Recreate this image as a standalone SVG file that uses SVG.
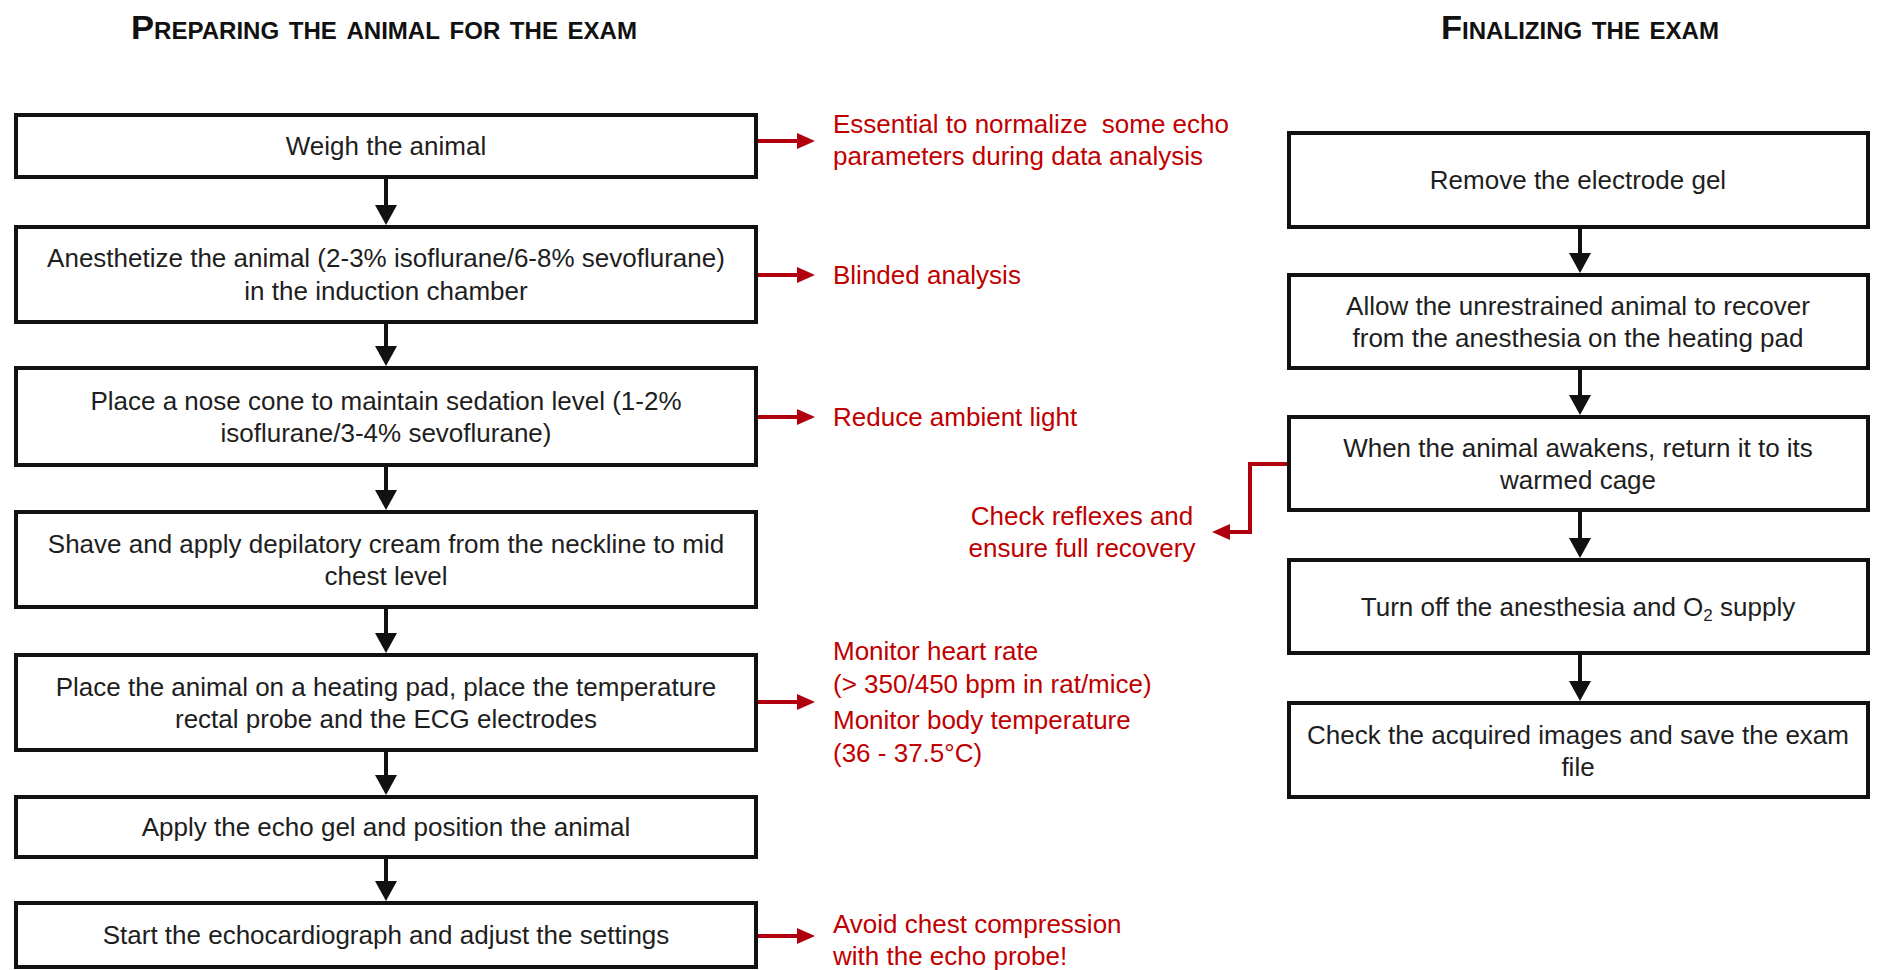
<svg xmlns="http://www.w3.org/2000/svg" width="1877" height="970" viewBox="0 0 1877 970">
<defs>
<style>
.box{fill:#ffffff;stroke:#111111;stroke-width:4}
.t{font-family:"Liberation Sans",Arial,sans-serif;font-size:26px;fill:#1e1e1e;text-anchor:middle}
.r{font-family:"Liberation Sans",Arial,sans-serif;font-size:26px;fill:#c00000}
.title{font-family:"Liberation Sans",Arial,sans-serif;font-size:33px;font-weight:bold;font-variant:small-caps;fill:#111111;text-anchor:middle}
.blk{fill:none;stroke:#111111;stroke-width:4}
.red{fill:none;stroke:#b00010;stroke-width:4}
</style>
<marker id="ab" markerUnits="userSpaceOnUse" viewBox="0 0 20 22" markerWidth="20" markerHeight="22" refX="0" refY="11" orient="auto">
<path d="M0,0 L20,11 L0,22 Z" fill="#111111"/>
</marker>
<marker id="ar" markerUnits="userSpaceOnUse" viewBox="0 0 18 16" markerWidth="18" markerHeight="16" refX="0" refY="8" orient="auto">
<path d="M0,0 L18,8 L0,16 Z" fill="#b00010"/>
</marker>
</defs>
<rect width="1877" height="970" fill="#ffffff"/>

<g id="titles">
<text class="title" x="384" y="39" textLength="506" lengthAdjust="spacingAndGlyphs">Preparing the animal for the exam</text>
<text class="title" x="1580" y="39" textLength="278" lengthAdjust="spacingAndGlyphs">Finalizing the exam</text>
</g>

<g id="connectors">
<line class="blk" x1="386" y1="179" x2="386" y2="205" marker-end="url(#ab)"/>
<line class="blk" x1="386" y1="324" x2="386" y2="346" marker-end="url(#ab)"/>
<line class="blk" x1="386" y1="467" x2="386" y2="490" marker-end="url(#ab)"/>
<line class="blk" x1="386" y1="609" x2="386" y2="633" marker-end="url(#ab)"/>
<line class="blk" x1="386" y1="752" x2="386" y2="775" marker-end="url(#ab)"/>
<line class="blk" x1="386" y1="859" x2="386" y2="881" marker-end="url(#ab)"/>
<line class="blk" x1="1580" y1="229" x2="1580" y2="253" marker-end="url(#ab)"/>
<line class="blk" x1="1580" y1="370" x2="1580" y2="395" marker-end="url(#ab)"/>
<line class="blk" x1="1580" y1="512" x2="1580" y2="538" marker-end="url(#ab)"/>
<line class="blk" x1="1580" y1="655" x2="1580" y2="681" marker-end="url(#ab)"/>
<line class="red" x1="758" y1="141" x2="797" y2="141" marker-end="url(#ar)"/>
<line class="red" x1="758" y1="275" x2="797" y2="275" marker-end="url(#ar)"/>
<line class="red" x1="758" y1="417" x2="797" y2="417" marker-end="url(#ar)"/>
<line class="red" x1="758" y1="702" x2="797" y2="702" marker-end="url(#ar)"/>
<line class="red" x1="758" y1="936" x2="797" y2="936" marker-end="url(#ar)"/>
<path class="red" d="M1287,464 H1250 V532 H1230" marker-end="url(#ar)"/>
</g>

<g id="weigh">
<rect class="box" x="16" y="115" width="740" height="62"/>
<text class="t" x="386" y="155">Weigh the animal</text>
</g>
<g id="anesthetize">
<rect class="box" x="16" y="227" width="740" height="95"/>
<text class="t" x="386" y="267">Anesthetize the animal (2-3% isoflurane/6-8% sevoflurane)</text>
<text class="t" x="386" y="300">in the induction chamber</text>
</g>
<g id="nosecone">
<rect class="box" x="16" y="368" width="740" height="97"/>
<text class="t" x="386" y="410">Place a nose cone to maintain sedation level (1-2%</text>
<text class="t" x="386" y="442">isoflurane/3-4% sevoflurane)</text>
</g>
<g id="shave">
<rect class="box" x="16" y="512" width="740" height="95"/>
<text class="t" x="386" y="553">Shave and apply depilatory cream from the neckline to mid</text>
<text class="t" x="386" y="585">chest level</text>
</g>
<g id="heatingpad">
<rect class="box" x="16" y="655" width="740" height="95"/>
<text class="t" x="386" y="696">Place the animal on a heating pad, place the temperature</text>
<text class="t" x="386" y="728">rectal probe and the ECG electrodes</text>
</g>
<g id="echogel">
<rect class="box" x="16" y="797" width="740" height="60"/>
<text class="t" x="386" y="836">Apply the echo gel and position the animal</text>
</g>
<g id="start">
<rect class="box" x="16" y="903" width="740" height="64"/>
<text class="t" x="386" y="944">Start the echocardiograph and adjust the settings</text>
</g>

<g id="note-weigh">
<text class="r" x="833" y="133" xml:space="preserve">Essential to normalize  some echo</text>
<text class="r" x="833" y="165">parameters during data analysis</text>
</g>
<g id="note-blinded">
<text class="r" x="833" y="284">Blinded analysis</text>
</g>
<g id="note-light">
<text class="r" x="833" y="426">Reduce ambient light</text>
</g>
<g id="note-monitor">
<text class="r" x="833" y="660">Monitor heart rate</text>
<text class="r" x="833" y="693">(&gt; 350/450 bpm in rat/mice)</text>
<text class="r" x="833" y="729">Monitor body temperature</text>
<text class="r" x="833" y="762">(36 - 37.5°C)</text>
</g>
<g id="note-compression">
<text class="r" x="833" y="933">Avoid chest compression</text>
<text class="r" x="833" y="965">with the echo probe!</text>
</g>
<g id="note-reflexes">
<text class="r" x="1082" y="525" text-anchor="middle">Check reflexes and</text>
<text class="r" x="1082" y="557" text-anchor="middle">ensure full recovery</text>
</g>

<g id="gel">
<rect class="box" x="1289" y="133" width="579" height="94"/>
<text class="t" x="1578" y="189">Remove the electrode gel</text>
</g>
<g id="recover">
<rect class="box" x="1289" y="275" width="579" height="93"/>
<text class="t" x="1578" y="315">Allow the unrestrained animal to recover</text>
<text class="t" x="1578" y="347">from the anesthesia on the heating pad</text>
</g>
<g id="awakens">
<rect class="box" x="1289" y="417" width="579" height="93"/>
<text class="t" x="1578" y="457">When the animal awakens, return it to its</text>
<text class="t" x="1578" y="489">warmed cage</text>
</g>
<g id="turnoff">
<rect class="box" x="1289" y="560" width="579" height="93"/>
<text class="t" x="1578" y="616">Turn off the anesthesia and O<tspan font-size="17" dy="5">2</tspan><tspan dy="-5"> supply</tspan></text>
</g>
<g id="check">
<rect class="box" x="1289" y="703" width="579" height="94"/>
<text class="t" x="1578" y="744">Check the acquired images and save the exam</text>
<text class="t" x="1578" y="776">file</text>
</g>
</svg>
